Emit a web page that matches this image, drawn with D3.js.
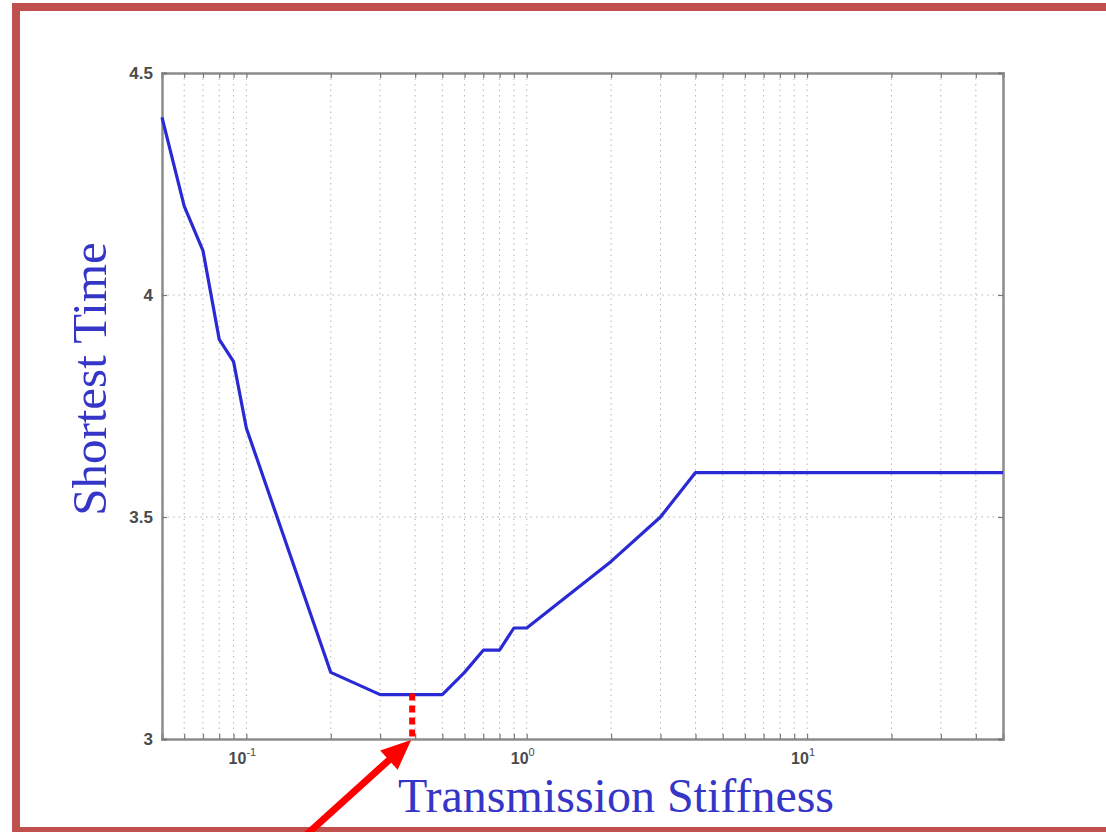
<!DOCTYPE html>
<html>
<head>
<meta charset="utf-8">
<script src="https://cdn.jsdelivr.net/npm/d3@7"></script>
<style>
  html, body { margin: 0; padding: 0; background: #fff; }
  svg { display: block; }
</style>
</head>
<body>
<svg id="chart" width="1106" height="832"></svg>
<script>
// Transmission stiffness (log scale) and the shortest time reached at each value
const stiffness = [0.05, 0.06, 0.07, 0.08, 0.09, 0.1, 0.2, 0.3, 0.4, 0.5, 0.6, 0.7, 0.8, 0.9, 1, 2, 3, 4, 5, 6, 7, 8, 9, 10, 20, 30, 40, 50];
const shortestTime = [4.4, 4.2, 4.1, 3.9, 3.85, 3.7, 3.15, 3.1, 3.1, 3.1, 3.15, 3.2, 3.2, 3.25, 3.25, 3.4, 3.5, 3.6, 3.6, 3.6, 3.6, 3.6, 3.6, 3.6, 3.6, 3.6, 3.6, 3.6];
const yTicks = [3, 3.5, 4, 4.5];
const yTickLabels = ["3", "3.5", "4", "4.5"];
const xDecades = [0.1, 1, 10];
const xDecadeExponents = ["-1", "0", "1"];
const optimumStiffness = 0.4;
const optimumTime = 3.1;

const svg = d3.select("#chart");
const plot = { left: 162, right: 1003, top: 73, bottom: 739 };

const x = d3.scaleLog().domain([0.05, 50]).range([plot.left, plot.right]);
const y = d3.scaleLinear().domain([3, 4.5]).range([plot.bottom, plot.top]);

// Frame around the slide
svg.append("rect")
  .attr("x", 16).attr("y", 7)
  .attr("width", 1200).attr("height", 824)
  .attr("fill", "none")
  .attr("stroke", "#c0504d")
  .attr("stroke-width", 8);

const g = svg.append("g");

// Minor log ticks for the grid
const minorTicks = [];
[0.01, 0.1, 1, 10].forEach(d => {
  for (let k = 1; k < 10; k++) {
    const v = d * k;
    if (v >= 0.05 && v <= 50) minorTicks.push(v);
  }
});

// Vertical dotted grid
g.selectAll("line.vgrid").data(minorTicks).join("line")
  .attr("class", "vgrid")
  .attr("x1", d => x(d)).attr("x2", d => x(d))
  .attr("y1", plot.top).attr("y2", plot.bottom)
  .attr("stroke", "#9a9a9a")
  .attr("stroke-width", 0.9)
  .attr("stroke-dasharray", "1.5,4")
  .attr("opacity", 0.8);

// Horizontal dotted grid
g.selectAll("line.hgrid").data(yTicks.filter(t => t > 3 && t < 4.5)).join("line")
  .attr("class", "hgrid")
  .attr("x1", plot.left).attr("x2", plot.right)
  .attr("y1", d => y(d)).attr("y2", d => y(d))
  .attr("stroke", "#9a9a9a")
  .attr("stroke-width", 0.9)
  .attr("stroke-dasharray", "1.5,4")
  .attr("opacity", 0.8);

// Axes with inward ticks
const axisColor = "#8c8c8c";
const xBottom = g.append("g").attr("transform", `translate(0,${plot.bottom})`)
  .call(d3.axisBottom(x).tickValues(minorTicks).tickSize(-5).tickFormat(""));
const xTop = g.append("g").attr("transform", `translate(0,${plot.top})`)
  .call(d3.axisTop(x).tickValues(minorTicks).tickSize(-5).tickFormat(""));
const yLeft = g.append("g").attr("transform", `translate(${plot.left},0)`)
  .call(d3.axisLeft(y).tickValues(yTicks).tickSize(-5).tickFormat(""));
const yRight = g.append("g").attr("transform", `translate(${plot.right},0)`)
  .call(d3.axisRight(y).tickValues(yTicks).tickSize(-5).tickFormat(""));
[xBottom, xTop, yLeft, yRight].forEach(a => {
  a.select(".domain").attr("stroke", axisColor).attr("stroke-width", 2.5);
  a.selectAll(".tick line").attr("stroke", "#777").attr("stroke-width", 1.2);
});

// Y tick labels
g.selectAll("text.ylab").data(yTicks).join("text")
  .attr("class", "ylab")
  .attr("x", plot.left - 9)
  .attr("y", d => y(d) + 6)
  .attr("text-anchor", "end")
  .attr("font-family", "Liberation Sans, Arial, sans-serif")
  .attr("font-size", 17)
  .attr("font-weight", "bold")
  .attr("fill", "#4a4a4a")
  .text((d, i) => yTickLabels[i]);

// X decade labels with superscript exponents
const xl = g.selectAll("text.xlab").data(xDecades).join("text")
  .attr("class", "xlab")
  .attr("x", d => x(d) - 4)
  .attr("y", plot.bottom + 25)
  .attr("text-anchor", "middle")
  .attr("font-family", "Liberation Sans, Arial, sans-serif")
  .attr("font-size", 16)
  .attr("font-weight", "bold")
  .attr("fill", "#4a4a4a");
xl.append("tspan").text("10");
xl.append("tspan").attr("dy", -8).attr("font-size", 11).attr("font-weight", "normal")
  .text((d, i) => xDecadeExponents[i]);

// Data curve
const line = d3.line().x((d, i) => x(stiffness[i])).y(d => y(d));
g.append("path")
  .datum(shortestTime)
  .attr("d", line)
  .attr("fill", "none")
  .attr("stroke", "#2a2ad4")
  .attr("stroke-width", 3.2)
  .attr("stroke-linejoin", "round");

// Dotted marker down from the optimum
svg.append("line")
  .attr("x1", x(optimumStiffness) - 3).attr("x2", x(optimumStiffness) - 3)
  .attr("y1", y(optimumTime) - 1).attr("y2", plot.bottom - 2)
  .attr("stroke", "#ff0000")
  .attr("stroke-width", 6)
  .attr("stroke-dasharray", "7,5");

// Arrow pointing at the optimum on the axis
const tipX = x(optimumStiffness) - 4, tipY = plot.bottom + 1;
const tailX = 305, tailY = 836;
const ang = Math.atan2(tipY - tailY, tipX - tailX);
const headLen = 30, headHalf = 13;
const baseX = tipX - headLen * Math.cos(ang), baseY = tipY - headLen * Math.sin(ang);
svg.append("line")
  .attr("x1", tailX).attr("y1", tailY)
  .attr("x2", baseX + 2 * Math.cos(ang)).attr("y2", baseY + 2 * Math.sin(ang))
  .attr("stroke", "#ff0000")
  .attr("stroke-width", 7);
svg.append("path")
  .attr("d", `M${tipX},${tipY}L${baseX - headHalf * Math.sin(ang)},${baseY + headHalf * Math.cos(ang)}L${baseX + headHalf * Math.sin(ang)},${baseY - headHalf * Math.cos(ang)}Z`)
  .attr("fill", "#ff0000");

// Axis titles
svg.append("text")
  .attr("x", 616).attr("y", 812)
  .attr("text-anchor", "middle")
  .attr("font-family", "Liberation Serif, Times New Roman, serif")
  .attr("font-size", 48)
  .attr("fill", "#3535c8")
  .text("Transmission Stiffness");

svg.append("text")
  .attr("transform", "translate(106,379) rotate(-90)")
  .attr("text-anchor", "middle")
  .attr("font-family", "Liberation Serif, Times New Roman, serif")
  .attr("font-size", 49)
  .attr("fill", "#3535c8")
  .text("Shortest Time");
</script>
</body>
</html>
